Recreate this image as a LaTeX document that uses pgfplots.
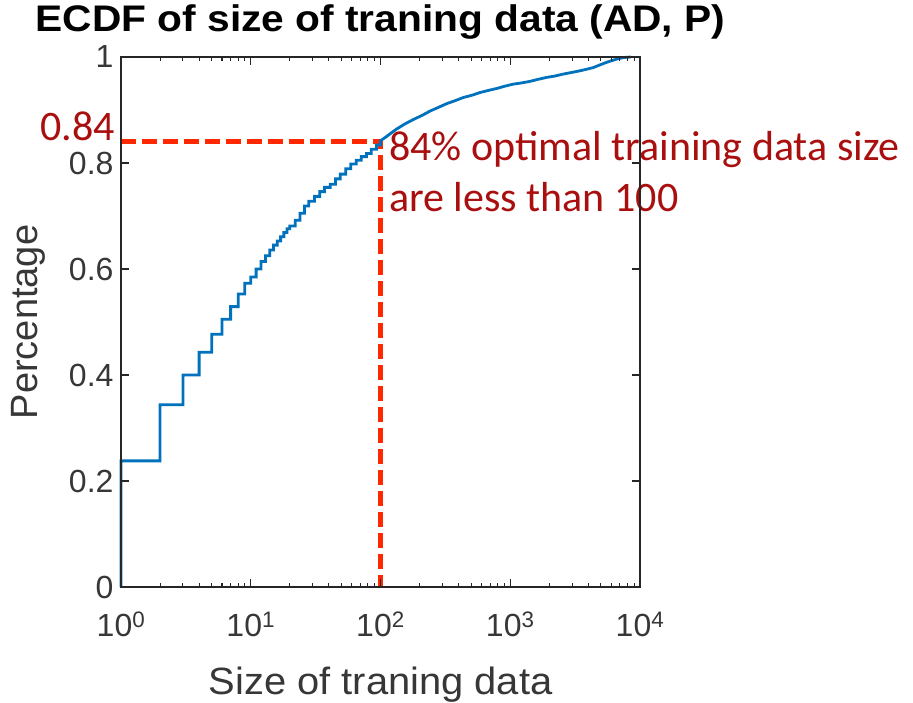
\documentclass[border=0pt]{standalone}
\usepackage{fontspec}
\setmainfont{Liberation Sans}
\newfontfamily\calibri{Carlito}
\usepackage{graphicx}
\usepackage{pgfplots}
\pgfplotsset{compat=1.18}

\definecolor{mblue}{RGB}{0,114,189}
\definecolor{mgray}{RGB}{38,38,38}
\definecolor{lblgray}{RGB}{55,55,55}
\definecolor{annred}{RGB}{170,15,15}
\definecolor{dashred}{RGB}{255,40,0}

\begin{document}
\begin{tikzpicture}
\useasboundingbox (0,0) rectangle (913pt,703pt);
\begin{axis}[
  at={(121pt,116pt)}, anchor=south west,
  scale only axis, width=519pt, height=530pt,
  xmode=log, log basis x=10,
  xmin=1, xmax=10000, ymin=0, ymax=1,
  clip=false, axis on top,
  xtick={1,10,100,1000,10000},
  xticklabels={10\textsuperscript{0},10\textsuperscript{1},10\textsuperscript{2},10\textsuperscript{3},10\textsuperscript{4}},
  minor xtick={2,3,4,5,6,7,8,9,20,30,40,50,60,70,80,90,200,300,400,500,600,700,800,900,2000,3000,4000,5000,6000,7000,8000,9000},
  ytick={0,0.2,0.4,0.6,0.8,1},
  yticklabels={0,0.2,0.4,0.6,0.8,1},
  tick align=inside, xtick pos=both, ytick pos=both,
  major tick length=8pt, minor tick length=4pt,
  every tick/.append style={mgray, line width=1.1pt},
  axis line style={mgray, line width=1.3pt},
  tick label style={font=\fontsize{32}{38}\selectfont, text=lblgray},
  xticklabel style={anchor=base, yshift=-50pt},
  yticklabel style={anchor=east, xshift=-4pt},
  title={\scalebox{1.1}[1]{ECDF of size of traning data (AD, P)}},
  title style={at={(axis description cs:0.5,1.0377)}, anchor=base, yshift=0pt,
    font=\bfseries\fontsize{37}{42}\selectfont, text=black},
  xlabel={\scalebox{1.05}[1]{Size of traning data}},
  xlabel style={at={(axis description cs:0.5,-0.2019)}, anchor=base,
    font=\fontsize{38}{44}\selectfont, text=lblgray},
  ylabel={Percentage},
  ylabel style={at={(axis description cs:-0.178,0.5)}, anchor=center, rotate=0,
    font=\fontsize{38}{44}\selectfont, text=lblgray},
]
% guide lines marking the 84% level at size 100
\addplot[dashred, line width=5pt, dash pattern=on 15pt off 6pt]
  coordinates {(1,0.84) (100,0.84) (100,0)};

% empirical CDF of the training data size
\addplot[mblue, line width=2.8pt] coordinates {
  (1,0) (1,0.238) (2,0.238) (2,0.344) (3,0.344) (3,0.400) (4,0.400) (4,0.443)
  (5,0.443) (5,0.477) (6,0.477) (6,0.505) (7,0.505) (7,0.529) (8,0.529) (8,0.553)
  (9,0.553) (9,0.573) (10,0.573) (10,0.585) (11,0.585) (11,0.600) (12,0.600) (12,0.614)
  (13,0.614) (13,0.625) (14,0.625) (14,0.636) (15,0.636) (15,0.645) (16,0.645) (16,0.653)
  (17,0.653) (17,0.661) (18,0.661) (18,0.669) (19,0.669) (19,0.676) (20,0.676) (20,0.681)
  (22,0.681) (22,0.692) (24,0.692) (24,0.705) (26,0.705) (26,0.719) (28,0.719) (28,0.728)
  (31,0.728) (31,0.737) (34,0.737) (34,0.746) (37,0.746) (37,0.754) (41,0.754) (41,0.760)
  (45,0.760) (45,0.770) (49,0.770) (49,0.779) (54,0.779) (54,0.789) (59,0.789) (59,0.798)
  (65,0.798) (65,0.805) (71,0.805) (71,0.812) (78,0.812) (78,0.818) (85,0.818) (85,0.826)
  (93,0.826) (93,0.834) (100,0.834) (100,0.842)
  (110,0.849) (120,0.856) (133,0.864) (155,0.874) (179,0.882) (210,0.890) (241,0.898)
  (280,0.905) (324,0.912) (380,0.918) (435,0.9236) (510,0.928) (585,0.933) (680,0.937)
  (787,0.9406) (910,0.945) (1055,0.9488) (1220,0.951) (1420,0.954) (1650,0.958)
  (1910,0.9615) (2200,0.964) (2565,0.9678) (3000,0.971) (3450,0.974) (3900,0.977)
  (4365,0.980) (4900,0.985) (5540,0.990) (6610,0.996) (7500,0.999) (8500,1.0)
};

\node[anchor=base east, inner sep=0pt, text=annred, xshift=-6pt, yshift=1pt,
  font=\calibri\fontsize{42}{51}\selectfont] at (axis cs:1,0.84) {0.84};
\node[anchor=base west, inner sep=0pt, text=annred, xshift=8.5pt, yshift=-18.3pt,
  font=\calibri\fontsize{42}{51}\selectfont] at (axis cs:100,0.84) {84\% optimal training data size};
\node[anchor=base west, inner sep=0pt, text=annred, xshift=8.5pt, yshift=-69.3pt,
  font=\calibri\fontsize{42}{51}\selectfont] at (axis cs:100,0.84) {are less than 100};
\end{axis}
\end{tikzpicture}
\end{document}
